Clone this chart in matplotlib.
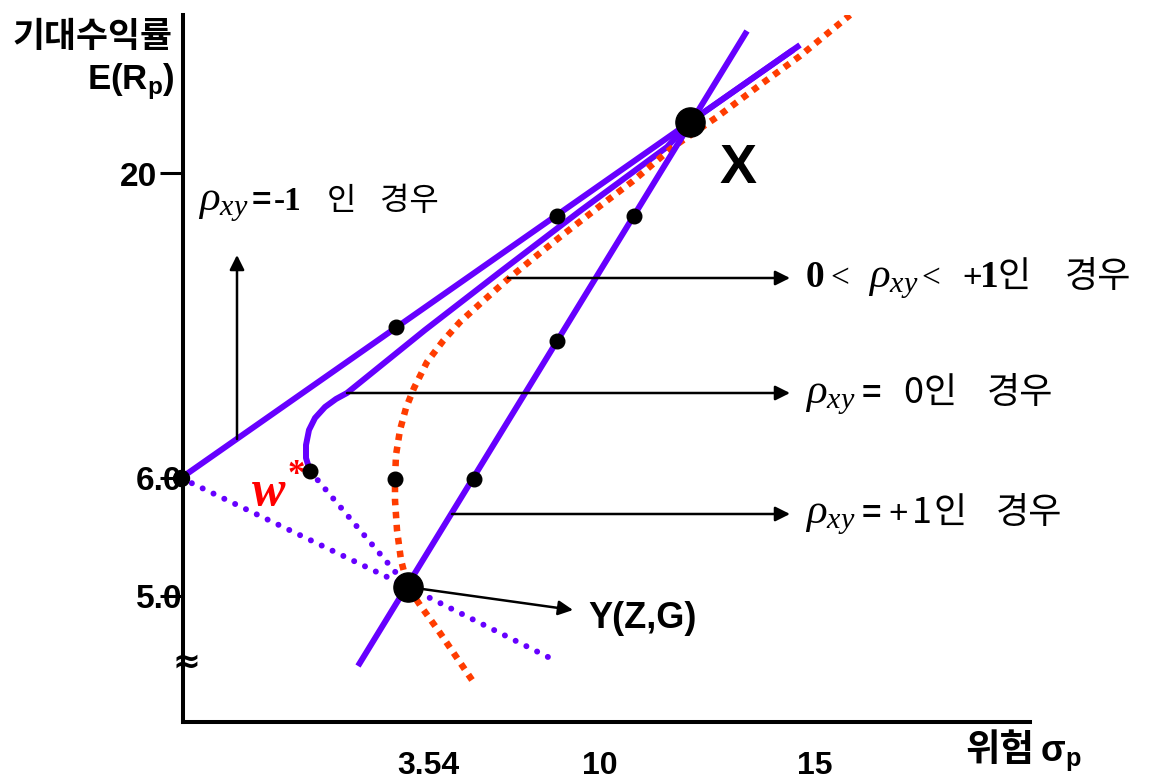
import numpy as np
import matplotlib
import matplotlib.pyplot as plt

plt.rcParams['mathtext.fontset'] = 'custom'
plt.rcParams['mathtext.it'] = 'Liberation Serif:italic'
plt.rcParams['mathtext.rm'] = 'Liberation Sans'
plt.rcParams['mathtext.bf'] = 'Liberation Sans:bold'

KR = 'Noto Sans CJK KR'
SERIF = 'Liberation Serif'
SANS = 'Liberation Sans'
PURPLE = '#6600FF'
RED = '#FF3C00'

# --------------------------------------------------------------------
# schematic (risk, return) coordinates
pt_x = (50.7, 60.0)
pt_y = (22.5, 13.5)
pt_rf = (-0.2, 24.4)

# rho = -1 : straight line through the zero-risk point
neg_sig = [-0.2, 50.7, 61.7]
neg_ret = [24.4, 60.0, 67.7]
neg_low_sig = [-0.2, 22.5, 36.9]
neg_low_ret = [24.4, 13.5, 6.3]
neg_dot_sig = [21.3, 37.4]
neg_dot_ret = [39.5, 50.6]

# rho = 0
zero_sig = [12.7, 12.3, 12.3, 12.6, 13.2, 14.2, 15.3, 16.4, 24.2, 31.7, 39.7, 48.4, 50.7, 61.0]
zero_ret = [25.1, 26.4, 27.7, 29.2, 30.4, 31.5, 32.3, 32.9, 39.2, 45.0, 51.1, 57.5, 60.0, 67.2]
w_sig = [12.7, 22.5]
w_ret = [25.1, 13.5]

# 0 < rho < +1
mid_sig = [28.9, 27.2, 25.5, 23.7, 22.5, 21.8, 21.4, 21.2, 21.2, 21.3, 21.7, 22.3, 23.1, 24.4,
           26.0, 27.7, 29.9, 32.5, 35.2, 37.7, 41.7, 45.0, 49.0, 53.4, 57.7, 61.7, 66.7]
mid_ret = [4.2, 6.7, 9.2, 11.7, 13.5, 16.2, 19.2, 22.2, 24.3, 26.7, 29.2, 31.4, 33.4, 36.0,
           38.1, 40.0, 42.0, 44.3, 46.5, 48.5, 51.6, 54.1, 57.5, 60.5, 63.7, 66.6, 70.7]
mid_dot = (21.2, 24.3)

# rho = +1
pos_sig = [17.5, 56.4]
pos_ret = [5.6, 69.1]
pos_dot_sig = [29.1, 37.4, 45.1]
pos_dot_ret = [24.3, 38.1, 50.6]

# label arrows
arrow_start = [32.5, 16.4, 26.9]
arrow_level = [44.4, 32.9, 20.8]
arrow_end = 60.7

ytick_pos = [54.9, 24.4, 12.6]
ytick_text = ['20', '6.0', '5.0']
ytick_right = [-2.6, -0.1, -0.1]
xtick_pos = [24.5, 41.7, 63.2]
xtick_text = ['3.54', '10', '15']

# --------------------------------------------------------------------
fig = plt.figure(figsize=(11.49, 7.84), dpi=100)
ax = fig.add_axes([183 / 1149, 62 / 784, 847 / 1149, 707 / 784])
ax.set_xlim(0, 84.7)
ax.set_ylim(0, 70.7)
for side in ['top', 'right']:
    ax.spines[side].set_visible(False)
for side in ['left', 'bottom']:
    ax.spines[side].set_linewidth(2.9)
    ax.spines[side].set_capstyle('projecting')
ax.set_xticks([])
ax.set_yticks(ytick_pos)
ax.tick_params(axis='y', direction='out', length=16.5, width=2.2, labelleft=False)

dotted = dict(color=PURPLE, lw=4.3, ls=(0, (0.01, 2.0)), dash_capstyle='round', zorder=3)

# frontiers
ax.plot(neg_sig, neg_ret, color=PURPLE, lw=4.3, solid_capstyle='butt', zorder=3)
ax.plot(neg_low_sig, neg_low_ret, **dotted)
ax.plot(zero_sig, zero_ret, color=PURPLE, lw=4.3, solid_capstyle='butt',
        solid_joinstyle='round', zorder=3)
ax.plot(w_sig, w_ret, **dotted)
ax.plot(mid_sig, mid_ret, color=RED, lw=4.7, ls=(0, (1, 1.0)),
        dash_capstyle='butt', zorder=3)
ax.plot(pos_sig, pos_ret, color=PURPLE, lw=4.3, solid_capstyle='butt', zorder=3)

# label arrows
arr = dict(arrowstyle='-|>', lw=1.8, color='black', mutation_scale=22, shrinkA=0, shrinkB=0)
for x0, y0 in zip(arrow_start, arrow_level):
    ax.annotate('', xy=(arrow_end, y0), xytext=(x0, y0), arrowprops=arr, zorder=4)
ax.annotate('', xy=(5.4, 46.7), xytext=(5.4, 28.3), arrowprops=arr, zorder=4)
ax.annotate('', xy=(39.0, 11.2), xytext=pt_y, arrowprops=arr, zorder=4)

# portfolio points
ax.plot(neg_dot_sig + pos_dot_sig + [w_sig[0], mid_dot[0]],
        neg_dot_ret + pos_dot_ret + [w_ret[0], mid_dot[1]],
        'o', color='black', ms=10.5, zorder=5, clip_on=False)
ax.plot([pt_rf[0]], [pt_rf[1]], 'o', color='black', ms=11.5, zorder=5, clip_on=False)
ax.plot([pt_x[0], pt_y[0]], [pt_x[1], pt_y[1]], 'o', color='black', ms=21, zorder=5)

# axis numbers
for yp, txt, xr in zip(ytick_pos, ytick_text, ytick_right):
    ax.text(xr, yp - 0.4, txt, ha='right', va='center', fontsize=24, fontweight='bold',
            family=SANS, zorder=1, clip_on=False)
for xp, txt in zip(xtick_pos, xtick_text):
    ax.text(xp, -5.2, txt, ha='center', va='baseline', fontsize=23, fontweight='bold',
            family=SANS, clip_on=False)
ax.text(0.4, 6.0, '≈', ha='center', va='center', fontsize=24, fontweight='bold',
        family='DejaVu Sans', clip_on=False)

# axis titles
ax.text(-17.0, 68.6, '기대수익률', ha='left', va='center', fontsize=25, fontweight='bold',
        family=KR, clip_on=False)
ax.text(-0.8, 63.2, 'E(R$_{\\mathbf{p}}$)', ha='right', va='baseline', fontsize=25,
        fontweight='bold', family=SANS, clip_on=False)
ax.text(78.2, -3.9, '위험', ha='left', va='baseline', fontsize=27, fontweight='bold',
        family=KR, clip_on=False)
ax.text(85.7, -3.9, 'σ$_{\\mathbf{p}}$', ha='left', va='baseline', fontsize=26,
        fontweight='bold', family=SANS, clip_on=False)

# point names
ax.text(55.5, 53.9, 'X', ha='center', va='baseline', fontsize=40, fontweight='bold',
        family=SANS)
ax.text(40.5, 9.4, 'Y(Z,G)', ha='left', va='baseline', fontsize=26, fontweight='bold',
        family=SANS)
ax.text(6.9, 21.7, 'w', ha='left', va='baseline', fontsize=36, fontweight='bold',
        style='italic', family=SERIF, color='red')
ax.text(11.3, 24.7, '*', ha='center', va='center', fontsize=25, fontweight='bold',
        family=SERIF, color='red')

# correlation captions, built piece by piece on a common baseline
rho = '$\\rho_{xy}$'
p_rho = dict(fontsize=31)
p_eq = dict(fontsize=24, fontweight='bold', family=SANS)
p_sb = dict(fontsize=27, fontweight='bold', family=SERIF)
p_sr = dict(fontsize=24, family=SERIF)
p_plus = dict(fontsize=24, family=SANS)
p_kr = dict(fontsize=26, family=KR)

captions = [
    (51.2, [(1.5, rho, p_rho), (6.9, '=', p_eq),
            (9.1, '-1', dict(fontsize=24, fontweight='bold', family=SERIF)),
            (14.4, '인', dict(fontsize=23, family=KR)), (19.7, '경우', dict(fontsize=23, family=KR))]),
    (43.5, [(62.3, '0', p_sb), (64.7, '<', p_sr), (68.5, rho, p_rho), (73.8, '<', p_sr),
            (77.9, '+', p_plus), (79.7, '1', p_sb), (81.5, '인', p_kr), (88.2, '경우', p_kr)]),
    (31.9, [(62.2, rho, p_rho), (67.9, '=', p_eq), (72.0, '0', p_kr), (74.1, '인', p_kr),
            (80.4, '경우', p_kr)]),
    (19.9, [(62.2, rho, p_rho), (67.9, '=', p_eq), (70.5, '+', p_plus), (72.9, '1', p_kr),
            (75.1, '인', p_kr), (81.3, '경우', p_kr)]),
]
for yb, parts in captions:
    for xp, txt, props in parts:
        ax.text(xp, yb, txt, ha='left', va='baseline', clip_on=False, **props)

fig.savefig('out.png', dpi=100)
